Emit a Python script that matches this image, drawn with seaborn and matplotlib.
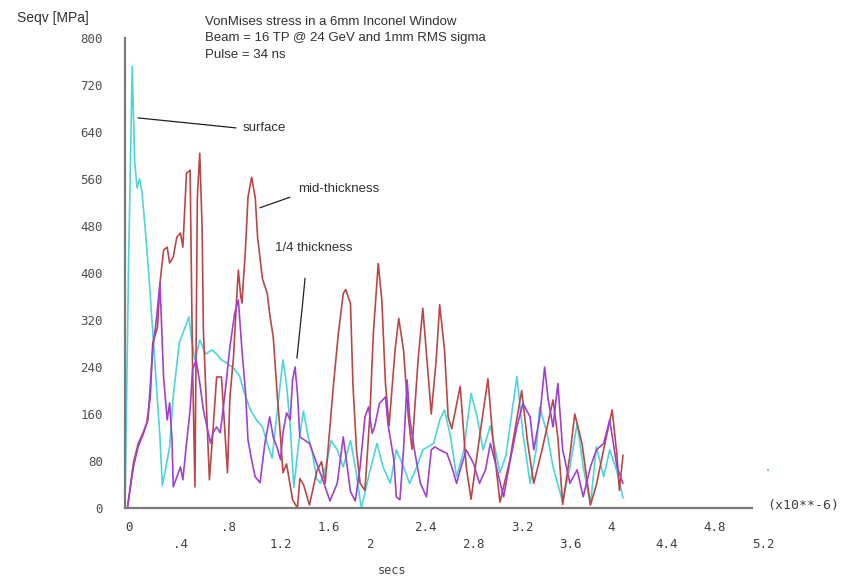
import matplotlib
matplotlib.use("Agg")
import matplotlib.pyplot as plt
import numpy as np
import pandas as pd
import seaborn as sns

# Time axis in units of 1e-6 s, stress in MPa
surface_t = [0.00, 0.03, 0.06, 0.08, 0.10, 0.12, 0.14, 0.17, 0.20, 0.23, 0.26, 0.29,
             0.31, 0.34, 0.37, 0.40, 0.45, 0.49, 0.53, 0.55, 0.58, 0.62, 0.67, 0.72,
             0.76, 0.80, 0.85, 0.90, 0.95, 0.99, 1.04, 1.09, 1.14, 1.18, 1.22, 1.26,
             1.31, 1.34, 1.37, 1.40, 1.44, 1.48, 1.52, 1.55, 1.59, 1.62, 1.67, 1.71,
             1.76, 1.81, 1.87, 1.91, 1.96, 2.03, 2.09, 2.14, 2.20, 2.25, 2.31, 2.36,
             2.42, 2.47, 2.56, 2.61, 2.65, 2.70, 2.75, 2.81, 2.87, 2.92, 2.97, 3.03,
             3.07, 3.11, 3.16, 3.25, 3.30, 3.36, 3.41, 3.44, 3.50, 3.55, 3.63, 3.69,
             3.75, 3.80, 3.86, 3.91, 3.97, 4.02, 4.08, 4.13]
surface_v = [0, 420, 752, 590, 545, 560, 540, 470, 390, 300, 210, 120,
             38, 70, 104, 190, 281, 303, 325, 290, 252, 286, 262, 269,
             262, 252, 246, 238, 225, 196, 167, 150, 138, 110, 85, 160,
             252, 210, 140, 35, 110, 165, 120, 99, 50, 42, 74, 115,
             99, 70, 115, 70, 0, 62, 110, 70, 42, 99, 70, 42,
             70, 99, 110, 150, 167, 121, 53, 99, 195, 155, 99, 140,
             100, 60, 90, 224, 127, 42, 99, 172, 127, 70, 10, 70,
             144, 70, 6, 104, 53, 99, 62, 17]

mid_t = [0.02, 0.07, 0.11, 0.15, 0.18, 0.21, 0.23, 0.27, 0.29, 0.32, 0.35, 0.37,
         0.40, 0.43, 0.46, 0.48, 0.51, 0.54, 0.56, 0.58, 0.60, 0.62, 0.64, 0.65,
         0.70, 0.73, 0.76, 0.80, 0.85, 0.87, 0.90, 0.93, 0.94, 0.96, 0.97, 1.00,
         1.02, 1.05, 1.08, 1.10, 1.14, 1.18, 1.20, 1.23, 1.26, 1.29, 1.31, 1.34,
         1.39, 1.43, 1.45, 1.48, 1.53, 1.59, 1.63, 1.66, 1.69, 1.73, 1.77, 1.81,
         1.83, 1.87, 1.89, 1.92, 1.95, 1.99, 2.03, 2.06, 2.10, 2.13, 2.16, 2.19,
         2.24, 2.27, 2.31, 2.35, 2.38, 2.43, 2.47, 2.52, 2.54, 2.58, 2.61, 2.65,
         2.68, 2.71, 2.78, 2.83, 2.87, 2.94, 3.01, 3.05, 3.11, 3.19, 3.29, 3.34,
         3.39, 3.46, 3.55, 3.59, 3.63, 3.69, 3.73, 3.79, 3.86, 3.91, 3.97, 4.04,
         4.08, 4.10, 4.13]
mid_v = [0, 77, 110, 128, 145, 189, 281, 308, 383, 439, 444, 417,
         427, 461, 468, 444, 570, 575, 247, 36, 529, 604, 473, 303,
         48, 133, 223, 223, 60, 189, 257, 371, 405, 360, 349, 444,
         529, 563, 529, 460, 390, 365, 330, 290, 200, 120, 60, 75,
         14, 0, 50, 40, 5, 62, 79, 42, 115, 212, 298, 365,
         372, 348, 212, 99, 42, 30, 155, 298, 416, 354, 212, 140,
         269, 323, 269, 155, 100, 250, 340, 212, 160, 250, 346, 269,
         155, 135, 207, 70, 15, 120, 220, 120, 10, 80, 200, 110,
         42, 100, 184, 120, 6, 90, 160, 110, 5, 40, 100, 167,
         90, 30, 90]

quarter_t = [0.02, 0.07, 0.11, 0.15, 0.19, 0.23, 0.26, 0.29, 0.32, 0.35, 0.37, 0.39,
             0.40, 0.43, 0.46, 0.48, 0.51, 0.54, 0.56, 0.59, 0.62, 0.65, 0.68, 0.71,
             0.73, 0.76, 0.79, 0.83, 0.87, 0.91, 0.94, 0.97, 1.00, 1.02, 1.05, 1.08,
             1.12, 1.16, 1.20, 1.23, 1.26, 1.29, 1.31, 1.34, 1.37, 1.39, 1.41, 1.43,
             1.45, 1.53, 1.59, 1.65, 1.70, 1.76, 1.81, 1.87, 1.91, 1.95, 1.99, 2.02,
             2.05, 2.07, 2.11, 2.16, 2.18, 2.23, 2.25, 2.28, 2.31, 2.34, 2.36, 2.40,
             2.45, 2.50, 2.54, 2.57, 2.61, 2.67, 2.71, 2.75, 2.78, 2.83, 2.89, 2.94,
             2.99, 3.03, 3.08, 3.14, 3.19, 3.25, 3.30, 3.36, 3.39, 3.44, 3.48, 3.51,
             3.55, 3.59, 3.63, 3.69, 3.75, 3.80, 3.86, 3.91, 3.97, 4.02, 4.08, 4.13]
quarter_v = [0, 70, 105, 125, 150, 270, 320, 383, 223, 150, 179, 116,
             36, 53, 70, 48, 110, 167, 235, 252, 213, 167, 138, 110,
             128, 138, 128, 196, 274, 332, 354, 269, 196, 116, 82, 53,
             43, 110, 155, 120, 104, 82, 128, 162, 150, 218, 240, 196,
             121, 110, 76, 42, 12, 42, 121, 28, 12, 70, 155, 172,
             127, 138, 178, 189, 144, 82, 19, 14, 99, 218, 155, 99,
             42, 19, 99, 104, 99, 93, 70, 42, 65, 99, 76, 42,
             65, 110, 70, 19, 76, 138, 178, 155, 99, 155, 240, 184,
             138, 212, 99, 42, 65, 19, 70, 99, 110, 150, 70, 42]

# isolated sample beyond the last tick
stray_t = [5.33]
stray_v = [65]

x_major = [0, 0.8, 1.6, 2.4, 3.2, 4.0, 4.8]
x_major_labels = ["0", ".8", "1.6", "2.4", "3.2", "4", "4.8"]
x_minor = [0.4, 1.2, 2.0, 2.8, 3.6, 4.4, 5.2]
x_minor_labels = [".4", "1.2", "2", "2.8", "3.6", "4.4", "5.2"]
y_ticks = [0, 80, 160, 240, 320, 400, 480, 560, 640, 720, 800]

sns.set_style("white")
plt.rcParams["font.family"] = ["Liberation Sans", "DejaVu Sans"]

W, H = 846, 580
fig = plt.figure(figsize=(W / 100, H / 100), dpi=100)
x0, x1, y0, y1 = 125, 752, 508, 38
ax = fig.add_axes([x0 / W, 1 - y0 / H, (x1 - x0) / W, (y0 - y1) / H])

c_surf = "#4CD6D6"
c_mid = "#BB4646"
c_qtr = "#A040D0"

df_s = pd.DataFrame({"t": surface_t, "v": surface_v})
df_m = pd.DataFrame({"t": mid_t, "v": mid_v})
df_q = pd.DataFrame({"t": quarter_t, "v": quarter_v})
sns.lineplot(data=df_s, x="t", y="v", color=c_surf, lw=1.2, ax=ax,
             estimator=None, sort=False)
sns.lineplot(data=df_m, x="t", y="v", color=c_mid, lw=1.2, ax=ax,
             estimator=None, sort=False)
sns.lineplot(data=df_q, x="t", y="v", color=c_qtr, lw=1.2, ax=ax,
             estimator=None, sort=False)
ax.plot(stray_t, stray_v, "s", color=c_surf, ms=1.5, mew=0, clip_on=False)

ax.set_xlim(0, 5.2)
ax.set_ylim(0, 800)
ax.set_xlabel("")
ax.set_ylabel("")

for s in ["top", "right"]:
    ax.spines[s].set_visible(False)
for s in ["left", "bottom"]:
    ax.spines[s].set_color("#7a7a7a")
    ax.spines[s].set_linewidth(1.6)

mono = "DejaVu Sans Mono"
ax.set_yticks(y_ticks)
ax.set_yticklabels([str(v) for v in y_ticks], family=mono, fontsize=9,
                   color="#505050")
ax.tick_params(axis="y", direction="out", length=4, width=1, color="#b0b0b0",
               pad=12)

ax.set_xticks(x_major)
ax.set_xticklabels(x_major_labels, family=mono, fontsize=9, color="#404040",
                   ha="left")
ax.set_xticks(x_minor, minor=True)
ax.set_xticklabels(x_minor_labels, minor=True, family=mono, fontsize=9,
                   color="#404040", ha="left")
ax.tick_params(axis="x", which="major", direction="out", length=7.5, width=1,
               color="#c0c0c0", pad=2)
ax.tick_params(axis="x", which="minor", direction="out", length=19.5, width=1,
               color="#c0c0c0", pad=2)

txt = "#303030"
# leader lines and curve labels
ax.plot([0.108, 0.539, 0.920], [664, 655, 647], color="#202020", lw=0.9)
ax.text(0.975, 647, "surface", fontsize=9.5, color=txt, va="center")
ax.plot([1.119, 1.368], [511, 529], color="#202020", lw=0.9)
ax.text(1.434, 543, "mid-thickness", fontsize=9.5, color=txt, va="center")
ax.plot([1.493, 1.476, 1.426], [391, 354, 255], color="#202020", lw=0.9)
ax.text(1.244, 442, "1/4 thickness", fontsize=9.5, color=txt, va="center")

fig.text(17 / W, 1 - 18 / H, "Seqv [MPa]", fontsize=10, color=txt, va="center")
title_lines = ["VonMises stress in a 6mm Inconel Window",
               "Beam = 16 TP @ 24 GeV and 1mm RMS sigma",
               "Pulse = 34 ns"]
for i, line in enumerate(title_lines):
    fig.text(205 / W, 1 - (22 + 16.5 * i) / H, line, fontsize=9.5, color=txt,
             va="center")
fig.text(767 / W, 1 - 506 / H, "(x10**-6)", family=mono, fontsize=9.5,
         color="#404040", va="center")
fig.text(392 / W, 1 - 570 / H, "secs", family=mono, fontsize=8.5,
         color="#404040", va="center", ha="center")

fig.savefig("out.png", dpi=100)
